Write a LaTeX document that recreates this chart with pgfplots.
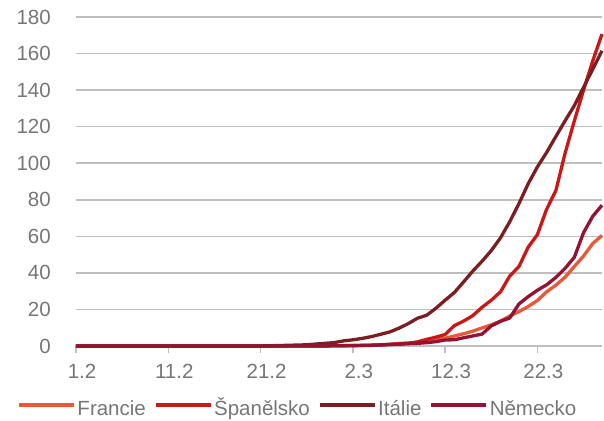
\documentclass[border=0pt]{standalone}
\usepackage{fontspec}
\setmainfont{Liberation Sans}
\usepackage{pgfplots}
\usepackage{pgfplotstable}
\pgfplotsset{compat=1.18}
\definecolor{cFR}{RGB}{232,88,58}
\definecolor{cES}{RGB}{200,24,24}
\definecolor{cIT}{RGB}{122,30,34}
\definecolor{cDE}{RGB}{148,18,50}
\definecolor{txt}{RGB}{118,118,118}
\definecolor{grd}{RGB}{191,191,191}

\pgfplotstableread{
d fr es it de
0 0.01 0 0 0.01
1 0.01 0 0 0.01
2 0.01 0 0 0.01
3 0.01 0 0 0.01
4 0.01 0 0 0.01
5 0.01 0 0 0.01
6 0.01 0 0 0.01
7 0.01 0 0 0.02
8 0.01 0 0 0.02
9 0.01 0 0 0.02
10 0.01 0 0 0.02
11 0.01 0 0 0.02
12 0.01 0 0 0.02
13 0.01 0 0 0.02
14 0.01 0 0 0.02
15 0.01 0 0 0.02
16 0.01 0 0 0.02
17 0.01 0 0 0.02
18 0.01 0 0 0.02
19 0.01 0 0 0.02
20 0.01 0 0.03 0.02
21 0.01 0 0.13 0.02
22 0.01 0 0.26 0.02
23 0.02 0 0.38 0.02
24 0.02 0.01 0.53 0.02
25 0.03 0.03 0.66 0.03
26 0.06 0.03 1.08 0.06
27 0.09 0.07 1.47 0.06
28 0.15 0.10 1.87 0.10
29 0.19 0.18 2.81 0.16
30 0.29 0.26 3.37 0.20
31 0.30 0.35 4.15 0.24
32 0.43 0.47 5.12 0.33
33 0.56 0.55 6.39 0.60
34 0.97 0.85 7.68 0.83
35 1.42 1.07 9.75 0.99
36 1.68 1.43 12.22 1.29
37 1.80 2.29 15.20 1.46
38 2.66 3.61 16.81 1.81
39 3.40 4.85 20.65 2.37
40 4.29 6.28 25.04 3.30
41 5.46 11.15 29.26 3.40
42 6.71 13.62 35.05 4.50
43 8.09 16.61 41.00 5.50
44 9.90 21.18 46.36 6.50
45 11.54 25.03 52.20 11.00
46 13.63 29.63 59.17 13.50
47 16.41 38.27 67.98 15.30
48 18.82 43.48 77.90 23.00
49 21.58 54.06 88.76 27.00
50 24.91 60.93 97.98 30.50
51 29.64 74.85 105.91 33.50
52 33.29 84.97 114.61 37.50
53 37.66 105.48 123.24 42.50
54 43.51 123.11 131.50 48.50
55 49.20 140.01 141.50 62.00
56 56.08 156.02 151.50 71.00
57 60.50 170.66 161.50 77.00
}\data

\begin{document}
\begin{tikzpicture}
\useasboundingbox (-76bp,-75bp) rectangle (528bp,346bp);
\begin{axis}[
  at={(0,0)}, anchor=south west,
  scale only axis, width=526bp, height=329bp,
  xmin=0, xmax=57, ymin=0, ymax=180,
  clip=false,
  axis line style={draw=none},
  xtick={0,10,20,30,40,50},
  xticklabels={1.2,11.2,21.2,2.3,12.3,22.3},
  xtick pos=bottom, tick align=outside,
  major tick length=7bp,
  xtick style={draw=grd, line width=1.5bp},
  ytick={0,20,...,180},
  ytick style={draw=none},
  ymajorgrids, grid style={grd, line width=1.5bp},
  ticklabel style={font=\fontsize{20.5bp}{24bp}\selectfont, text=txt},
  /pgf/number format/assume math mode=true,
  yticklabel style={anchor=east, inner sep=0pt, xshift=-18bp},
  xticklabel style={anchor=base, inner sep=0pt, yshift=-25bp, xshift=6bp},
  no markers,
  legend style={at={(rel axis cs:0,0)}, anchor=west, xshift=-59bp, yshift=-64bp,
    draw=none, fill=none, inner sep=0pt,
    font=\fontsize{20.5bp}{24bp}\selectfont, text=txt,
    nodes={inner sep=0pt, text height=15bp, text depth=4bp},
    /tikz/every odd column/.append style={column sep=2bp},
    /tikz/every even column/.append style={column sep=8bp}},
  legend columns=4,
  legend cell align=left,
  legend image code/.code={\draw[#1, line width=3.3bp] (0bp,5bp) -- (55bp,5bp);},
]
\addplot[cFR, line width=3.3bp, line join=round] table[x=d,y=fr]{\data};
\addlegendentry{Francie}
\addplot[cES, line width=3.3bp, line join=round] table[x=d,y=es]{\data};
\addlegendentry{Španělsko}
\addplot[cIT, line width=3.3bp, line join=round] table[x=d,y=it]{\data};
\addlegendentry{Itálie}
\addplot[cDE, line width=3.3bp, line join=round] table[x=d,y=de]{\data};
\addlegendentry{Německo}
\end{axis}
\end{tikzpicture}
\end{document}
